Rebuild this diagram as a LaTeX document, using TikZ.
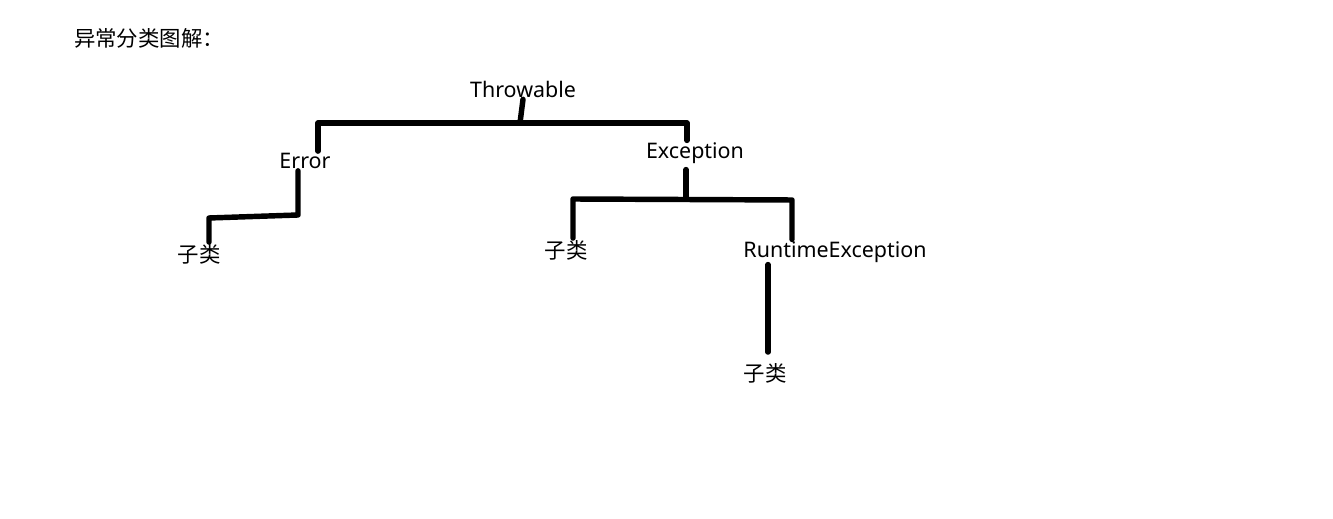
\documentclass[tikz,border=0pt]{standalone}
\usepackage{fontspec}
\setmainfont{Noto Sans}
\newfontfamily\cjk{Noto Sans CJK SC}
\usetikzlibrary{calc}

\begin{document}
\begin{tikzpicture}[
  x=0.02cm, y=-0.02cm,
  every node/.style={font=\fontsize{12.2}{14}\selectfont, inner sep=1pt},
  cls/.style={},
  sub/.style={font=\fontsize{12.2}{14}\selectfont\cjk},
  branch/.style={line width=3.1pt, line join=round, line cap=round}
]
\useasboundingbox (0,0) rectangle (1333,519);
\node[sub, anchor=west] (title) at (72,38) {异常分类图解：};
\node[cls] (throw) at (523,89) {Throwable};
\node[cls] (error) at (305,161) {Error};
\node[cls] (exc) at (695,153) {Exception};
\node[sub] (sub1) at (199,254) {子类};
\node[sub] (sub2) at (566,250) {子类};
\node[cls] (rte) at (835,252) {RuntimeException};
\node[sub] (sub3) at (765,373) {子类};
% junctions
\coordinate (t1) at (520,123);
\coordinate (c1) at (318,123);
\coordinate (c2) at (687,123);
\coordinate (e1) at (686,199);
\coordinate (c3) at (573,199);
\coordinate (c4) at (792,200);
\coordinate (d1) at (298,215);
\coordinate (d2) at (209,218);
\coordinate (r1) at (768,0);
\draw[branch] (throw.south) -- (t1);
\draw[branch] (error.north -| c1) -- (c1) -- (c2) -- (exc.north -| c2);
\draw[branch, shorten <=0.08cm] (exc.south -| e1) -- (e1);
\draw[branch] (sub2.north -| c3) -- (c3) -- (c4) -- (rte.north -| c4);
\draw[branch] (error.south -| d1) -- (d1) -- (d2) -- (sub1.north -| d2);
\draw[branch, shorten >=0.18cm] (rte.south -| r1) -- (sub3.north -| r1);
\end{tikzpicture}
\end{document}
